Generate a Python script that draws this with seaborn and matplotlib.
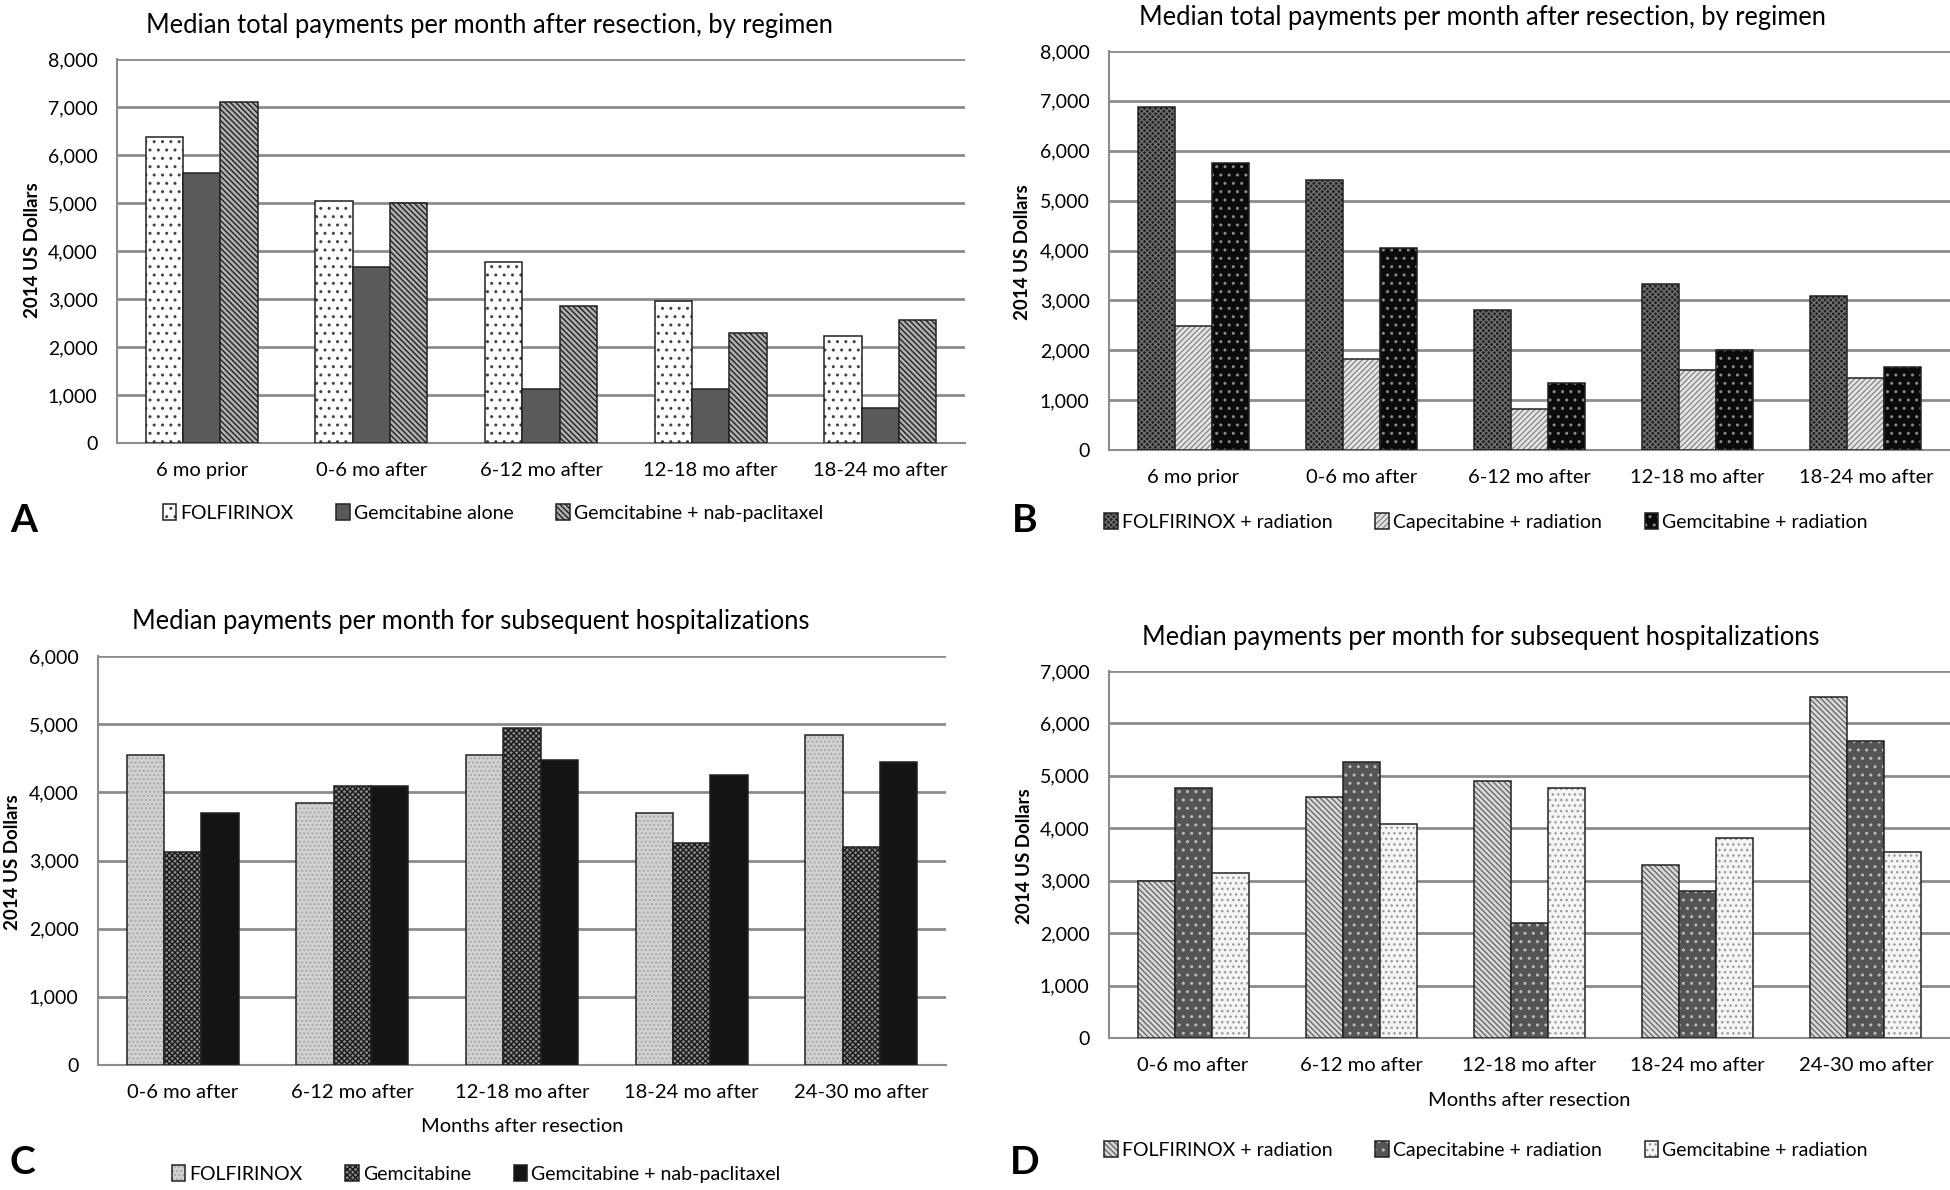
import numpy as np
import pandas as pd
import matplotlib
matplotlib.use("Agg")
import matplotlib.pyplot as plt
import matplotlib.colors as mcolors
from matplotlib.patches import Patch
from matplotlib.ticker import FuncFormatter, FixedLocator
import seaborn as sns

# ---- data ----
periods_ab = ["6 mo prior", "0-6 mo after", "6-12 mo after", "12-18 mo after", "18-24 mo after"]
periods_cd = ["0-6 mo after", "6-12 mo after", "12-18 mo after", "18-24 mo after", "24-30 mo after"]

regimens_a = ["FOLFIRINOX", "Gemcitabine alone", "Gemcitabine + nab-paclitaxel"]
a_folfirinox = [6380, 5050, 3780, 2950, 2220]
a_gem_alone = [5620, 3660, 1120, 1120, 730]
a_gem_nab = [7100, 4990, 2850, 2300, 2560]

regimens_b = ["FOLFIRINOX + radiation", "Capecitabine + radiation", "Gemcitabine + radiation"]
b_folfirinox_rad = [6880, 5410, 2810, 3320, 3080]
b_cape_rad = [2480, 1820, 820, 1610, 1440]
b_gem_rad = [5760, 4050, 1340, 2010, 1660]

regimens_c = ["FOLFIRINOX", "Gemcitabine", "Gemcitabine + nab-paclitaxel"]
c_folfirinox = [4550, 3840, 4550, 3690, 4840]
c_gem = [3130, 4100, 4950, 3250, 3200]
c_gem_nab = [3700, 4100, 4480, 4250, 4440]

regimens_d = ["FOLFIRINOX + radiation", "Capecitabine + radiation", "Gemcitabine + radiation"]
d_folfirinox_rad = [2990, 4600, 4900, 3300, 6500]
d_cape_rad = [4770, 5260, 2200, 2800, 5670]
d_gem_rad = [3140, 4090, 4770, 3820, 3540]

title_top = "Median total payments per month after resection, by regimen"
title_bottom = "Median payments per month for subsequent hospitalizations"

# fill, hatch, hatch colour for each series
styles_a = [("white", "..", "#444444"), ("#5a5a5a", "", "#333333"), ("#b0b0b0", "\\\\\\\\\\\\", "#222222")]
styles_b = [("#1e1e1e", "xxxxxx", "#6e6e6e"), ("#e6e6e6", "//////", "#8a8a8a"), ("#0a0a0a", "..", "#8a8a8a")]
styles_c = [("#d2d2d2", "....", "#a8a8a8"), ("#8a8a8a", "xxxxxx", "#1a1a1a"), ("#141414", "", "#141414")]
styles_d = [("#dadada", "\\\\\\\\\\\\", "#6a6a6a"), ("#555555", "..", "#bcbcbc"), ("#f5f5f5", "...", "#9a9a9a")]

sns.set_style("white")
plt.rcParams["font.family"] = ["Lato", "DejaVu Sans"]
plt.rcParams["hatch.linewidth"] = 1.0
for k in ["text.color", "axes.labelcolor", "xtick.color", "ytick.color"]:
    plt.rcParams[k] = "black"

W, H = 1950, 1190
fig = plt.figure(figsize=(W / 100, H / 100), dpi=100)

GRID = "#8c8c8c"


def style_patch(p, fc, hatch, hc, edge="#222222"):
    p.set_facecolor(fc)
    p.set_edgecolor(edge)
    p.set_linewidth(1.1)
    p.set_hatch(hatch if hatch else None)
    if hasattr(p, "set_hatchcolor"):
        p.set_hatchcolor(hc)
    else:
        p._hatch_color = mcolors.to_rgba(hc)


def panel(box, periods, regimens, series, styles, ymax, title, title_xy,
          leg_xy, letter, letter_xy, ylab_xy, xlabel_y=None, cat_pad=14):
    l, r, t, b = box
    ax = fig.add_axes([l / W, 1 - b / H, (r - l) / W, (b - t) / H])
    df = pd.DataFrame({
        "period": np.repeat([periods], len(regimens), axis=0).ravel(),
        "regimen": np.repeat(regimens, len(periods)),
        "value": np.concatenate(series),
    })
    sns.barplot(data=df, x="period", y="value", hue="regimen", order=periods,
                hue_order=regimens, width=0.66, saturation=1, legend=False,
                palette=["#777777"] * len(regimens), ax=ax, zorder=3)
    for cont, (fc, hatch, hc) in zip(ax.containers, styles):
        for p in cont:
            style_patch(p, fc, hatch, hc)

    ax.set_ylim(0, ymax)
    ax.set_xlim(-0.5, len(periods) - 0.5)
    ax.set_yticks(np.arange(0, ymax + 1, 1000))
    ax.yaxis.set_major_formatter(FuncFormatter(lambda v, _: f"{v:,.0f}"))
    ax.yaxis.grid(True, color=GRID, lw=2)
    ax.set_axisbelow(True)
    for s in ["top", "right"]:
        ax.spines[s].set_visible(False)
    for s in ["left", "bottom"]:
        ax.spines[s].set_color(GRID)
        ax.spines[s].set_linewidth(1.5)
    ax.tick_params(axis="y", length=5, color=GRID, labelsize=14, pad=9)
    ax.tick_params(axis="x", which="major", length=0, labelsize=14.5, pad=cat_pad)
    ax.xaxis.set_minor_locator(FixedLocator(np.arange(-0.5, len(periods), 1.0)))
    ax.tick_params(axis="x", which="minor", length=8, color=GRID, width=1.2)
    ax.set_xlabel("")
    ax.set_ylabel("")

    fig.text(title_xy[0] / W, 1 - title_xy[1] / H, title, ha="center", va="center", fontsize=18.4)
    fig.text(ylab_xy[0] / W, 1 - ylab_xy[1] / H, "2014 US Dollars", rotation=90,
             ha="center", va="center", fontsize=13.5, fontweight="bold")
    fig.text(letter_xy[0] / W, 1 - letter_xy[1] / H, letter, ha="center", va="center",
             fontsize=28, fontweight="bold")
    if xlabel_y is not None:
        fig.text((l + r) / 2 / W, 1 - xlabel_y / H, "Months after resection",
                 ha="center", va="center", fontsize=14.5)

    handles = []
    for (fc, hatch, hc) in styles:
        h = Patch(label="x")
        style_patch(h, fc, hatch, hc)
        handles.append(h)
    fig.legend(handles, regimens, loc="center", bbox_to_anchor=(leg_xy[0] / W, 1 - leg_xy[1] / H),
               ncol=3, frameon=False, fontsize=14, handlelength=0.7, handleheight=0.9,
               handletextpad=0.2, columnspacing=2.2)
    return ax


panel((117, 965, 59, 443), periods_ab, regimens_a, [a_folfirinox, a_gem_alone, a_gem_nab],
      styles_a, 8000, title_top, (489, 25), (493, 513), "A", (24, 521), (32, 250))

panel((1109, 1950, 51, 450), periods_ab, regimens_b, [b_folfirinox_rad, b_cape_rad, b_gem_rad],
      styles_b, 8000, title_top, (1482, 17), (1486, 522), "B", (1025, 521), (1023, 252))

panel((98, 946, 656, 1065), periods_cd, regimens_c, [c_folfirinox, c_gem, c_gem_nab],
      styles_c, 6000, title_bottom, (471, 622), (476, 1174), "C", (22, 1162), (13, 862),
      xlabel_y=1126)

panel((1109, 1950, 671, 1038), periods_cd, regimens_d, [d_folfirinox_rad, d_cape_rad, d_gem_rad],
      styles_d, 7000, title_bottom, (1481, 637), (1486, 1150), "D", (1025, 1163), (1025, 856),
      xlabel_y=1101)

fig.savefig("out.png", dpi=100, facecolor="white")
